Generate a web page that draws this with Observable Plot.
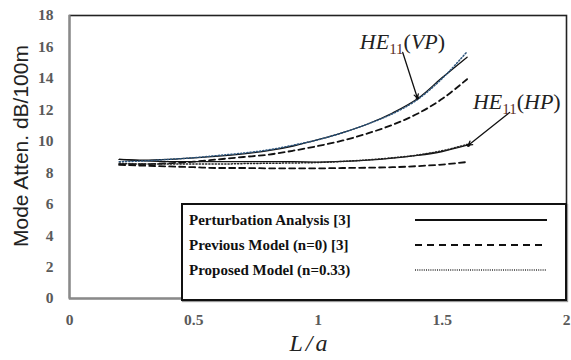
<!DOCTYPE html>
<html>
<head>
<meta charset="utf-8">
<script src="https://cdn.jsdelivr.net/npm/d3@7"></script>
<script src="https://cdn.jsdelivr.net/npm/@observablehq/plot@0.6"></script>
<style>
  html, body { margin: 0; padding: 0; background: #fff; }
  #wrap { position: relative; width: 571px; height: 360px; }
  #ytitle {
    position: absolute; left: 21px; top: 146px; transform: translate(-50%, -50%) rotate(-90deg);
    white-space: nowrap; font-family: "Liberation Sans", Arial, sans-serif; font-size: 21px; color: #222;
  }
  #legend {
    position: absolute; left: 181px; top: 203px; width: 382px; height: 94px;
    border: 2px solid #111; background: #fff; box-shadow: 1px 1px 1px #999;
    font-family: "Liberation Serif", "Times New Roman", serif; font-weight: bold; font-size: 15px; color: #111;
  }
  .row { position: absolute; left: 6px; height: 20px; display: flex; align-items: center; }
  .row span { width: 226px; }
</style>
</head>
<body>
<div id="wrap"></div>
<script>
// ---------- data ----------
const xValues = [0.2, 0.3, 0.4, 0.5, 0.6, 0.7, 0.8, 0.9, 1.0, 1.1, 1.2, 1.3, 1.4, 1.5, 1.6];
// HE11 (VP)
const vpPerturbation = [8.85, 8.8, 8.85, 8.95, 9.05, 9.2, 9.4, 9.7, 10.1, 10.55, 11.1, 11.8, 12.7, 14.05, 15.35];
const vpPrevious     = [8.55, 8.55, 8.6, 8.7, 8.85, 9.0, 9.15, 9.4, 9.7, 10.05, 10.5, 11.05, 11.75, 12.7, 13.95];
const vpProposed     = [8.7, 8.75, 8.85, 8.95, 9.1, 9.25, 9.45, 9.75, 10.1, 10.55, 11.1, 11.75, 12.65, 14.0, 15.7];
// HE11 (HP)
const hpPerturbation = [8.85, 8.75, 8.7, 8.7, 8.7, 8.7, 8.7, 8.7, 8.68, 8.72, 8.8, 8.93, 9.1, 9.35, 9.75];
const hpPrevious     = [8.5, 8.45, 8.4, 8.35, 8.3, 8.3, 8.28, 8.28, 8.28, 8.3, 8.32, 8.35, 8.42, 8.52, 8.68];
const hpProposed     = [8.6, 8.55, 8.55, 8.55, 8.55, 8.58, 8.6, 8.62, 8.65, 8.72, 8.82, 8.95, 9.12, 9.4, 9.8];

const seriesNames = ["Perturbation Analysis [3]", "Previous Model (n=0) [3]", "Proposed Model (n=0.33)"];
const xTicks = [0, 0.5, 1, 1.5, 2];
const xTickLabels = ["0", "0.5", "1", "1.5", "2"];
const yTicks = [0, 2, 4, 6, 8, 10, 12, 14, 16, 18];
const yTickLabels = ["0", "2", "4", "6", "8", "10", "12", "14", "16", "18"];
const yTitle = "Mode Atten. dB/100m";
const xTitle = "L/a";

// annotations (data coordinates)
const annLabels = ["HE11(VP)", "HE11(HP)"];
const annX = [1.34, 1.80];
const annY = [15.85, 12.05];
const arrowFromX = [1.341, 1.771];
const arrowFromY = [15.65, 11.83];
const arrowToX = [1.40, 1.605];
const arrowToY = [12.75, 9.75];

// ---------- build ----------
const toRows = (ys) => xValues.map((x, i) => ({x, y: ys[i]}));
const styles = [
  {strokeWidth: 1.3, strokeDasharray: null, stroke: "#111"},
  {strokeWidth: 1.8, strokeDasharray: "6,4", stroke: "#111"},
  {strokeWidth: 1.5, strokeDasharray: "1.2,2", stroke: "#2d557c"}
];
const lineMark = (ys, s, stroke) => Plot.line(toRows(ys), {
  x: "x", y: "y", curve: "monotone-x",
  stroke: stroke || s.stroke, strokeWidth: s.strokeWidth, strokeDasharray: s.strokeDasharray
});
const annRows = annLabels.map((t, i) => ({t, x: annX[i], y: annY[i],
  x1: arrowFromX[i], y1: arrowFromY[i], x2: arrowToX[i], y2: arrowToY[i]}));

const tickFont = "'Liberation Serif', 'Times New Roman', serif";

const chart = Plot.plot({
  width: 571, height: 360,
  marginLeft: 69, marginRight: 5, marginTop: 15, marginBottom: 62,
  style: {background: "#fff", overflow: "visible"},
  x: {domain: [0, 2], label: null},
  y: {domain: [0, 18], label: null},
  marks: [
    Plot.frame({stroke: "#222", strokeWidth: 1.6}),
    Plot.ruleX([0], {stroke: "#8a8a8a", strokeWidth: 2}),
    Plot.ruleY([0], {stroke: "#8a8a8a", strokeWidth: 2}),
    Plot.axisX({ticks: xTicks, tickFormat: (d) => xTickLabels[xTicks.indexOf(d)], tickSize: 0, tickPadding: 15,
      fontSize: 15.5, fontWeight: "bold", fontFamily: tickFont, fill: "#5a5a5a", label: null}),
    Plot.axisY({ticks: yTicks, tickFormat: (d) => yTickLabels[yTicks.indexOf(d)], tickSize: 0, tickPadding: 16,
      fontSize: 15.5, fontWeight: "bold", fontFamily: tickFont, fill: "#5a5a5a", label: null}),
    lineMark(vpPrevious, styles[1]),
    lineMark(hpPrevious, styles[1]),
    lineMark(vpPerturbation, styles[0]),
    lineMark(hpPerturbation, styles[0]),
    lineMark(vpProposed, styles[2]),
    lineMark(hpProposed, styles[2], "#222"),
    Plot.arrow(annRows, {x1: "x1", y1: "y1", x2: "x2", y2: "y2", stroke: "#111", strokeWidth: 1.3, headLength: 5, bend: 0}),
    Plot.dot(annRows, {x: "x2", y: "y2", r: 1.8, fill: "#111"}),
    Plot.text(annRows, {x: "x", y: "y", text: "t", fontSize: 22, fontFamily: "'Liberation Serif', serif",
      lineAnchor: "bottom", textAnchor: "middle", fill: "#222", className: "ann"}),
    Plot.text([xTitle], {frameAnchor: "bottom", text: (d) => d, dy: 52, dx: -8,
      fontSize: 24, fontStyle: "italic", fontFamily: "'Liberation Serif', serif", fill: "#222", className: "xt"})
  ]
});

const wrap = document.getElementById("wrap");
wrap.appendChild(chart);

// rich formatting of annotation labels: HE with subscript 11
chart.querySelectorAll(".ann text").forEach((el) => {
  const t = el.textContent; // e.g. HE11(VP)
  const m = t.match(/^([A-Z]+)(\d+)\((\w+)\)$/);
  if (!m) return;
  const ns = "http://www.w3.org/2000/svg";
  el.textContent = "";
  const a = document.createElementNS(ns, "tspan"); a.setAttribute("font-style", "italic"); a.textContent = m[1];
  const b = document.createElementNS(ns, "tspan"); b.setAttribute("font-size", "15"); b.setAttribute("dy", "5");
  b.setAttribute("fill", "#5a2a1e"); b.textContent = m[2];
  const c = document.createElementNS(ns, "tspan"); c.setAttribute("dy", "-5"); c.textContent = "(";
  const d = document.createElementNS(ns, "tspan"); d.setAttribute("font-style", "italic"); d.textContent = m[3];
  const e = document.createElementNS(ns, "tspan"); e.textContent = ")";
  [a, b, c, d, e].forEach((n) => el.appendChild(n));
});
chart.querySelectorAll(".xt text").forEach((el) => el.setAttribute("letter-spacing", "3"));

// y-axis title
const yt = document.createElement("div");
yt.id = "ytitle";
yt.textContent = yTitle;
wrap.appendChild(yt);

// legend
const legend = document.createElement("div");
legend.id = "legend";
seriesNames.forEach((name, i) => {
  const row = document.createElement("div");
  row.className = "row";
  row.style.top = (5 + i * 25) + "px";
  const span = document.createElement("span");
  span.textContent = name;
  row.appendChild(span);
  const svg = d3.create("svg").attr("width", 134).attr("height", 10);
  svg.append("line").attr("x1", 0).attr("x2", 132).attr("y1", 5).attr("y2", 5)
    .attr("stroke", i === 2 ? "#333" : "#111").attr("stroke-width", i === 2 ? 1.3 : 2)
    .attr("stroke-dasharray", i === 1 ? "7,5" : (i === 2 ? "1,1.2" : null));
  row.appendChild(svg.node());
  legend.appendChild(row);
});
wrap.appendChild(legend);
</script>
</body>
</html>
